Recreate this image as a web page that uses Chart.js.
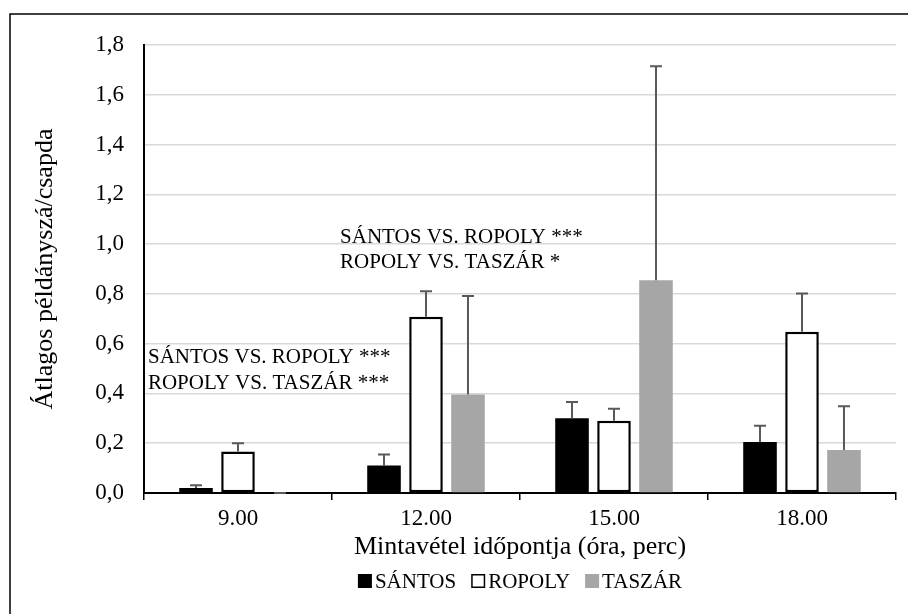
<!DOCTYPE html>
<html>
<head>
<meta charset="utf-8">
<script src="https://cdn.jsdelivr.net/npm/chart.js@4.4.1/dist/chart.umd.min.js"></script>
<style>
  html, body { margin: 0; padding: 0; background: #fff; }
  #wrap { width: 908px; height: 614px; position: relative; }
</style>
</head>
<body>
<div id="wrap"><canvas id="c" width="908" height="614"></canvas></div>
<script>
// ---- data ----
const categories = ['9.00', '12.00', '15.00', '18.00'];
const seriesNames = ['SÁNTOS', 'ROPOLY', 'TASZÁR'];
const santosValues = [0.02, 0.11, 0.30, 0.205];
const santosErrors = [0.011, 0.045, 0.066, 0.065];
const ropolyValues = [0.167, 0.708, 0.29, 0.648];
const ropolyErrors = [0.033, 0.103, 0.049, 0.154];
const taszarValues = [0, 0.396, 0.855, 0.173];
const taszarErrors = [0, 0.396, 0.86, 0.176];
const yTicks = [0, 0.2, 0.4, 0.6, 0.8, 1.0, 1.2, 1.4, 1.6, 1.8];
const yTitle = 'Átlagos példányszá/csapda';
const xTitle = 'Mintavétel időpontja (óra, perc)';
const annotationLines = [
  'SÁNTOS VS. ROPOLY ***', 'ROPOLY VS. TASZÁR ***',
  'SÁNTOS VS. ROPOLY ***', 'ROPOLY VS. TASZÁR *'
];
// anchor: [category position (index units), y value]
const annotationAnchors = [
  [-0.479, 0.546], [-0.479, 0.442],
  [0.543, 1.028], [0.543, 0.928]
];

const FONT = '"Liberation Serif", "Times New Roman", serif';
const errorData = [santosErrors, ropolyErrors, taszarErrors];

const framePlugin = {
  id: 'frame',
  beforeDraw(chart) {
    const ctx = chart.ctx;
    ctx.save();
    ctx.fillStyle = '#fff';
    ctx.fillRect(0, 0, chart.width, chart.height);
    ctx.strokeStyle = '#000';
    ctx.lineWidth = 1.5;
    ctx.beginPath();
    ctx.moveTo(10, chart.height);
    ctx.lineTo(10, 14);
    ctx.lineTo(chart.width, 14);
    ctx.stroke();
    ctx.restore();
  }
};

const errorBarPlugin = {
  id: 'errorBars',
  afterDatasetsDraw(chart) {
    const ctx = chart.ctx;
    const ys = chart.scales.y;
    ctx.save();
    ctx.strokeStyle = '#595959';
    ctx.lineWidth = 2;
    chart.data.datasets.forEach((ds, di) => {
      const meta = chart.getDatasetMeta(di);
      meta.data.forEach((bar, i) => {
        const v = ds.data[i];
        const e = errorData[di][i];
        const y0 = ys.getPixelForValue(v);
        const y1 = ys.getPixelForValue(v + e);
        ctx.beginPath();
        ctx.moveTo(bar.x, y0);
        ctx.lineTo(bar.x, y1);
        ctx.moveTo(bar.x - 6, y1);
        ctx.lineTo(bar.x + 6, y1);
        ctx.stroke();
      });
    });
    ctx.restore();
  }
};

const annotationPlugin = {
  id: 'annot',
  afterDatasetsDraw(chart) {
    const ctx = chart.ctx;
    const xs = chart.scales.x, ys = chart.scales.y;
    ctx.save();
    ctx.fillStyle = '#000';
    ctx.font = '21px ' + FONT;
    ctx.textAlign = 'left';
    ctx.textBaseline = 'middle';
    annotationLines.forEach((t, i) => {
      const [cx, yv] = annotationAnchors[i];
      ctx.fillText(t, xs.getPixelForValue(cx), ys.getPixelForValue(yv));
    });
    ctx.restore();
  }
};

const legendPlugin = {
  id: 'customLegend',
  afterDraw(chart) {
    const ctx = chart.ctx;
    const area = chart.chartArea;
    ctx.save();
    ctx.font = '21px ' + FONT;
    ctx.textBaseline = 'middle';
    const box = 14, gap = 3, itemGap = 15;
    const items = chart.data.datasets.map(ds => ({
      label: ds.label, w: box + gap + ctx.measureText(ds.label).width,
      fill: ds.backgroundColor, stroke: ds.borderWidth ? ds.borderColor : null
    }));
    const total = items.reduce((s, it) => s + it.w, 0) + itemGap * (items.length - 1);
    let x = (area.left + area.right) / 2 - total / 2;
    const y = 581;
    items.forEach(it => {
      ctx.fillStyle = it.fill;
      ctx.fillRect(x, y - box / 2, box, box);
      if (it.stroke) {
        ctx.strokeStyle = it.stroke;
        ctx.lineWidth = 1.5;
        ctx.strokeRect(x + 0.75, y - box / 2 + 0.75, box - 1.5, box - 1.5);
      }
      ctx.fillStyle = '#000';
      ctx.fillText(it.label, x + box + gap, y + 1);
      x += it.w + itemGap;
    });
    ctx.restore();
  }
};

new Chart(document.getElementById('c'), {
  type: 'bar',
  data: {
    labels: categories,
    datasets: [
      { label: seriesNames[0], data: santosValues, backgroundColor: '#000000', borderWidth: 0 },
      { label: seriesNames[1], data: ropolyValues, backgroundColor: '#ffffff', borderColor: '#000000', borderWidth: 2.5, borderSkipped: false },
      { label: seriesNames[2], data: taszarValues, backgroundColor: '#a6a6a6', borderWidth: 0 }
    ]
  },
  options: {
    responsive: false,
    animation: false,
    devicePixelRatio: 1,
    layout: { padding: { left: 0, right: 12, top: 45, bottom: 49 } },
    datasets: { bar: { categoryPercentage: 0.67, barPercentage: 0.8 } },
    plugins: {
      legend: { display: false },
      tooltip: { enabled: false }
    },
    scales: {
      x: {
        grid: { display: true, drawOnChartArea: false, drawTicks: true, tickLength: 7, color: '#000', lineWidth: 1.5, offset: true },
        border: { display: true, color: '#000', width: 2 },
        ticks: { color: '#000', font: { family: FONT, size: 23 }, padding: 5 },
        title: { display: true, text: xTitle, color: '#000', font: { family: FONT, size: 26 }, padding: { top: 0, bottom: 2 } },
        afterFit(scale) { scale.height = 72; }
      },
      y: {
        min: 0, max: 1.8,
        afterBuildTicks(scale) { scale.ticks = yTicks.map(v => ({ value: v })); },
        grid: { color: '#d9d9d9', lineWidth: 1.5, drawTicks: false },
        border: { display: true, color: '#000', width: 2 },
        ticks: {
          color: '#000', font: { family: FONT, size: 23 }, padding: 20,
          callback: v => v.toFixed(1).replace('.', ',')
        },
        title: { display: true, text: yTitle, color: '#000', font: { family: FONT, size: 26 }, padding: { top: 30, bottom: 0 } },
        afterFit(scale) { scale.width = 144; }
      }
    }
  },
  plugins: [framePlugin, errorBarPlugin, annotationPlugin, legendPlugin]
});
</script>
</body>
</html>
